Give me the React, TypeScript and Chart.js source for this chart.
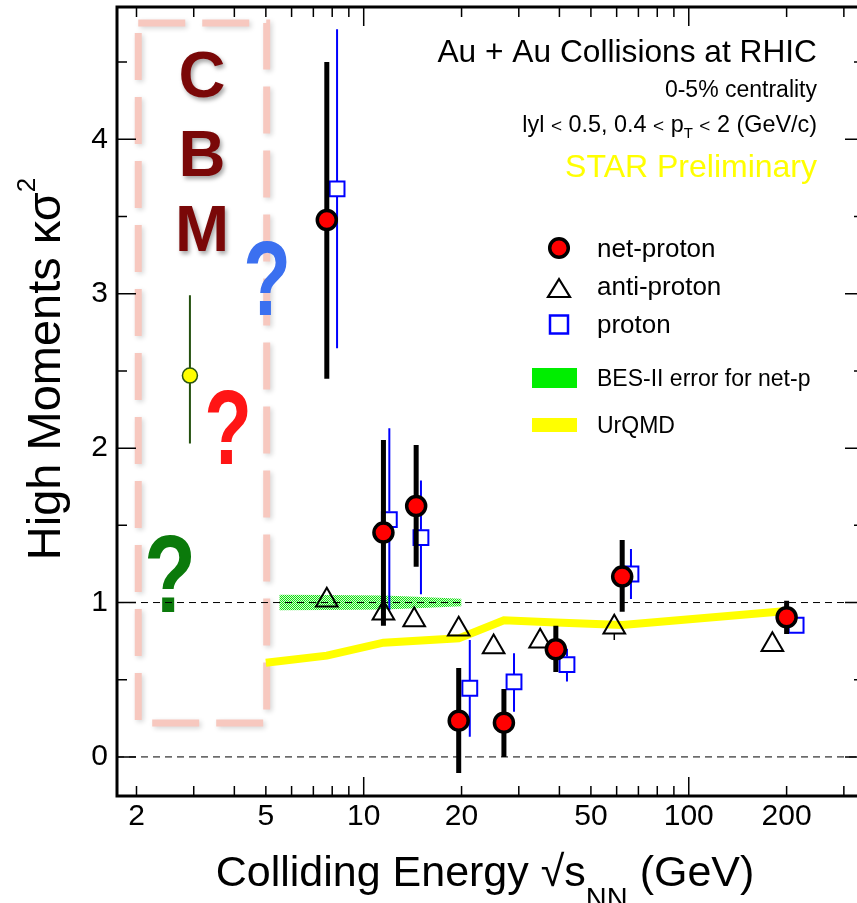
import React, { useEffect, useRef } from 'react';
import { Chart, registerables } from 'chart.js';

Chart.register(...registerables);

const FONT = '"Liberation Sans", Arial, Helvetica, sans-serif';
const CANVAS_W = 870;
const CANVAS_H = 903;

// axis ranges
const X_MIN = 1.742;
const X_MAX = 346;
const Y_MIN = -0.253;
const Y_MAX = 4.857;

// ticks
const xTickLabels = [2, 5, 10, 20, 50, 100, 200];
const xMajorTicks = [10, 100];
const xMinorTicks = [2, 3, 4, 5, 6, 7, 8, 9, 20, 30, 40, 50, 60, 70, 80, 90, 200, 300];
const yTickLabels = [0, 1, 2, 3, 4];
const yMinorTicks = [0.5, 1.5, 2.5, 3.5, 4.5];
const refLines = [0, 1];

// net-proton (STAR)
const netX = [7.7, 11.5, 14.5, 19.6, 27, 39, 62.4, 200];
const netY = [3.478, 1.453, 1.625, 0.235, 0.222, 0.697, 1.168, 0.905];
const netHi = [4.5, 2.053, 2.02, 0.576, 0.44, 0.85, 1.405, 1.012];
const netLo = [2.45, 0.85, 1.232, -0.104, 0.0, 0.55, 0.94, 0.797];

// anti-proton
const antiX = [7.7, 11.5, 14.3, 19.6, 25.1, 34.9, 59, 180.8];
const antiY = [1.014, 0.93, 0.887, 0.827, 0.712, 0.749, 0.84, 0.727];
const antiErr = [0.04, 0.04, 0.04, 0.04, 0.04, 0.04, 0.083, 0.04];

// proton
const protonX = [8.28, 11.99, 15.0, 21.2, 29.0, 42.2, 66.4, 213.9];
const protonY = [3.679, 1.537, 1.42, 0.445, 0.486, 0.598, 1.185, 0.853];
const protonHi = [4.713, 2.128, 1.79, 0.758, 0.672, 0.7, 1.347, 0.88];
const protonLo = [2.647, 0.95, 1.054, 0.131, 0.293, 0.488, 1.023, 0.83];

// UrQMD
const urqmdX = [5, 7.7, 11.5, 19.6, 27, 39, 62.4, 200];
const urqmdY = [0.61, 0.656, 0.74, 0.768, 0.885, 0.87, 0.855, 0.945];

// BES-II error band for net-p (around 1)
const besX = [5.5, 7.7, 11.5, 14.5, 20];
const besHalf = [0.05, 0.048, 0.045, 0.037, 0.024];

// CBM projected point
const cbmX = [2.92];
const cbmY = [2.47];
const cbmHi = [2.99];
const cbmLo = [2.03];

// CBM box (energy range / kappa-sigma range)
const boxX = [2.025, 5.03];
const boxY = [0.22, 4.754];

type Seg = { t: string; size: number; dy?: number; color?: string; bold?: boolean };

function segFont(s: Seg) {
  return `${s.bold ? 'bold ' : ''}${s.size}px ${FONT}`;
}

function drawRich(ctx: CanvasRenderingContext2D, segs: Seg[], x: number, y: number, align: 'left' | 'right' | 'center', color = '#000') {
  const widths = segs.map((s) => {
    ctx.font = segFont(s);
    return ctx.measureText(s.t).width;
  });
  const total = widths.reduce((a, b) => a + b, 0);
  let cx = align === 'left' ? x : align === 'right' ? x - total : x - total / 2;
  ctx.textAlign = 'left';
  ctx.textBaseline = 'alphabetic';
  segs.forEach((s, i) => {
    ctx.font = segFont(s);
    ctx.fillStyle = s.color || color;
    ctx.fillText(s.t, cx, y + (s.dy || 0));
    cx += widths[i];
  });
}

const errorBars = [
  { label: 'net-proton', xs: netX, ys: netY, lo: netLo, hi: netHi, color: '#000', width: 5, gapUp: 0, gapDown: 0 },
  {
    label: 'anti-proton', xs: antiX, ys: antiY,
    lo: antiY.map((v, i) => v - antiErr[i]), hi: antiY.map((v, i) => v + antiErr[i]),
    color: '#000', width: 1.5, gapUp: 12.5, gapDown: 6.3,
  },
  { label: 'proton', xs: protonX, ys: protonY, lo: protonLo, hi: protonHi, color: '#0000ff', width: 2, gapUp: 8, gapDown: 8 },
  { label: 'cbm', xs: cbmX, ys: cbmY, lo: cbmLo, hi: cbmHi, color: '#24500f', width: 2, gapUp: 0, gapDown: 0 },
];

const decorPlugin = {
  id: 'decor',
  beforeDatasetsDraw(chart: any) {
    const { ctx, scales } = chart;
    const x = scales.x;
    const y = scales.y;
    // CBM dashed box
    ctx.save();
    ctx.shadowColor = 'rgba(0,0,0,0.16)';
    ctx.shadowBlur = 5;
    ctx.shadowOffsetX = 2;
    ctx.shadowOffsetY = 2;
    ctx.strokeStyle = '#f7c8bf';
    ctx.lineWidth = 7;
    ctx.setLineDash([47, 17]);
    const l = x.getPixelForValue(boxX[0]);
    const r = x.getPixelForValue(boxX[1]);
    const t = y.getPixelForValue(boxY[1]);
    const b = y.getPixelForValue(boxY[0]);
    ctx.strokeRect(l, t, r - l, b - t);
    ctx.restore();

    // CBM letters
    ctx.save();
    ctx.shadowColor = 'rgba(0,0,0,0.35)';
    ctx.shadowBlur = 4;
    ctx.shadowOffsetX = 2;
    ctx.shadowOffsetY = 3;
    ctx.fillStyle = '#7a0808';
    ctx.font = `bold 65px ${FONT}`;
    ctx.textAlign = 'center';
    ctx.textBaseline = 'alphabetic';
    ctx.fillText('C', 202, 97);
    ctx.fillText('B', 202, 176);
    ctx.fillText('M', 202, 251);
    ctx.restore();

    // question marks
    const qm = (cx: number, base: number, size: number, sy: number, color: string) => {
      ctx.save();
      ctx.translate(cx, base);
      ctx.scale(1, sy);
      ctx.fillStyle = color;
      ctx.font = `bold ${size}px ${FONT}`;
      ctx.textAlign = 'center';
      ctx.textBaseline = 'alphabetic';
      ctx.fillText('?', 0, 0);
      ctx.restore();
    };
    qm(267, 315, 78, 1.36, '#3b70f0');
    qm(228, 464, 78, 1.36, '#ff1515');
    qm(170, 612, 85, 1.29, '#0b7a0b');
  },
  beforeDatasetDraw(chart: any, args: any) {
    const ds = chart.data.datasets[args.index];
    const eb = errorBars.find((e) => e.label === ds.label);
    if (!eb) return;
    const { ctx, chartArea, scales } = chart;
    const x = scales.x;
    const y = scales.y;
    ctx.save();
    ctx.beginPath();
    ctx.rect(chartArea.left, chartArea.top, chartArea.right - chartArea.left, chartArea.bottom - chartArea.top);
    ctx.clip();
    ctx.strokeStyle = eb.color;
    ctx.lineWidth = eb.width;
    ctx.lineCap = 'butt';
    eb.xs.forEach((xv, i) => {
      const px = x.getPixelForValue(xv);
      const pc = y.getPixelForValue(eb.ys[i]);
      const ph = y.getPixelForValue(eb.hi[i]);
      const pl = y.getPixelForValue(eb.lo[i]);
      ctx.beginPath();
      if (pc - eb.gapUp > ph) {
        ctx.moveTo(px, ph);
        ctx.lineTo(px, pc - eb.gapUp);
      }
      if (pl > pc + eb.gapDown) {
        ctx.moveTo(px, pc + eb.gapDown);
        ctx.lineTo(px, pl);
      }
      ctx.stroke();
    });
    ctx.restore();
  },
  afterDraw(chart: any) {
    const { ctx, chartArea, scales } = chart;
    const x = scales.x;
    const y = scales.y;
    const { left, right, top, bottom } = chartArea;

    // ticks
    ctx.save();
    ctx.strokeStyle = '#000';
    ctx.lineWidth = 1.5;
    ctx.beginPath();
    const major = 19;
    const minor = 10;
    xMajorTicks.forEach((v) => {
      const px = x.getPixelForValue(v);
      ctx.moveTo(px, bottom); ctx.lineTo(px, bottom - major);
      ctx.moveTo(px, top); ctx.lineTo(px, top + major);
    });
    xMinorTicks.forEach((v) => {
      const px = x.getPixelForValue(v);
      ctx.moveTo(px, bottom); ctx.lineTo(px, bottom - minor);
      ctx.moveTo(px, top); ctx.lineTo(px, top + minor);
    });
    yTickLabels.forEach((v) => {
      const py = y.getPixelForValue(v);
      ctx.moveTo(left, py); ctx.lineTo(left + major, py);
      ctx.moveTo(right, py); ctx.lineTo(right - major, py);
    });
    yMinorTicks.forEach((v) => {
      const py = y.getPixelForValue(v);
      ctx.moveTo(left, py); ctx.lineTo(left + minor, py);
      ctx.moveTo(right, py); ctx.lineTo(right - minor, py);
    });
    ctx.stroke();
    // frame
    ctx.lineWidth = 3;
    ctx.strokeRect(left, top, right - left, bottom - top);
    ctx.restore();

    ctx.save();
    // annotations
    drawRich(ctx, [{ t: 'Au + Au Collisions at RHIC', size: 31.7 }], 817, 62, 'right');
    drawRich(ctx, [{ t: '0-5% centrality', size: 23 }], 817, 97, 'right');
    drawRich(ctx, [
      { t: 'lyl ', size: 23.4 },
      { t: '<', size: 19 },
      { t: ' 0.5, 0.4 ', size: 23.4 },
      { t: '<', size: 19 },
      { t: ' p', size: 23.4 },
      { t: 'T', size: 15, dy: 6 },
      { t: ' ', size: 23.4 },
      { t: '<', size: 19 },
      { t: ' 2 (GeV/c)', size: 23.4 },
    ], 817, 132, 'right');
    drawRich(ctx, [{ t: 'STAR Preliminary', size: 32, color: '#ffff00' }], 817, 177, 'right');

    // legend
    ctx.beginPath();
    ctx.arc(559, 248, 9.3, 0, Math.PI * 2);
    ctx.fillStyle = '#ff0000';
    ctx.fill();
    ctx.lineWidth = 3.5;
    ctx.strokeStyle = '#000';
    ctx.stroke();
    ctx.beginPath();
    ctx.moveTo(559, 279);
    ctx.lineTo(570, 297);
    ctx.lineTo(548, 297);
    ctx.closePath();
    ctx.lineWidth = 2.2;
    ctx.stroke();
    ctx.strokeStyle = '#0000ff';
    ctx.lineWidth = 2.5;
    ctx.strokeRect(550, 315.5, 18, 18);
    ctx.fillStyle = '#00ee00';
    ctx.fillRect(532, 368, 45, 20);
    ctx.fillStyle = '#ffff00';
    ctx.fillRect(532, 418, 45, 14);

    drawRich(ctx, [{ t: 'net-proton', size: 26 }], 597, 257, 'left');
    drawRich(ctx, [{ t: 'anti-proton', size: 26 }], 597, 295, 'left');
    drawRich(ctx, [{ t: 'proton', size: 26 }], 597, 333, 'left');
    drawRich(ctx, [{ t: 'BES-II error for net-p', size: 23 }], 597, 386, 'left');
    drawRich(ctx, [{ t: 'UrQMD', size: 23 }], 597, 433, 'left');

    // axis titles
    drawRich(ctx, [
      { t: 'Colliding Energy √s', size: 43 },
      { t: 'NN', size: 29, dy: 22 },
      { t: ' (GeV)', size: 43 },
    ], 485, 886, 'center');

    ctx.save();
    ctx.translate(60, 369);
    ctx.rotate(-Math.PI / 2);
    drawRich(ctx, [
      { t: 'High Moments κσ', size: 47 },
      { t: '2', size: 26, dy: -25 },
    ], 0, 0, 'center');
    ctx.restore();
    ctx.restore();
  },
};

export default function App() {
  const ref = useRef<HTMLCanvasElement | null>(null);

  useEffect(() => {
    const canvas = ref.current;
    if (!canvas) return;
    const ctx = canvas.getContext('2d');
    if (!ctx) return;

    const pc = document.createElement('canvas');
    pc.width = 2;
    pc.height = 2;
    const p = pc.getContext('2d')!;
    p.fillStyle = '#d4fad4';
    p.fillRect(0, 0, 2, 2);
    p.fillStyle = '#14e014';
    p.fillRect(0, 0, 1, 1);
    p.fillRect(1, 1, 1, 1);
    const pattern = ctx.createPattern(pc, 'repeat');

    const pts = (xs: number[], ys: number[]) => xs.map((xv, i) => ({ x: xv, y: ys[i] }));

    const datasets: any[] = [
      {
        type: 'line', label: 'bes-low', data: besX.map((xv, i) => ({ x: xv, y: 1 - besHalf[i] })),
        borderWidth: 0, pointRadius: 0, fill: false, order: 12, borderColor: 'rgba(0,0,0,0)',
      },
      {
        type: 'line', label: 'BES-II error for net-p', data: besX.map((xv, i) => ({ x: xv, y: 1 + besHalf[i] })),
        borderWidth: 0, pointRadius: 0, fill: '-1', backgroundColor: pattern, order: 11, borderColor: 'rgba(0,0,0,0)',
      },
      ...refLines.map((v) => ({
        type: 'line', label: 'ref' + v, data: [{ x: X_MIN, y: v }, { x: X_MAX, y: v }],
        borderColor: '#000', borderWidth: 1, borderDash: [7, 5], pointRadius: 0, fill: false, order: 10,
      })),
      {
        type: 'line', label: 'UrQMD', data: pts(urqmdX, urqmdY),
        borderColor: '#ffff00', borderWidth: 8, pointRadius: 0, fill: false, order: 9, tension: 0,
      },
      {
        type: 'scatter', label: 'proton', data: pts(protonX, protonY),
        pointStyle: 'rect', pointRadius: 10.5, borderWidth: 2, borderColor: '#0000ff', backgroundColor: 'rgba(0,0,0,0)', order: 5,
      },
      {
        type: 'scatter', label: 'anti-proton', data: pts(antiX, antiY),
        pointStyle: 'triangle', pointRadius: 12.5, borderWidth: 2, borderColor: '#000', backgroundColor: 'rgba(0,0,0,0)', order: 4,
      },
      {
        type: 'scatter', label: 'cbm', data: pts(cbmX, cbmY),
        pointStyle: 'circle', pointRadius: 7.5, borderWidth: 1.5, borderColor: '#2a5512', backgroundColor: '#ffff00', order: 3,
      },
      {
        type: 'scatter', label: 'net-proton', data: pts(netX, netY),
        pointStyle: 'circle', pointRadius: 9.5, borderWidth: 3.5, borderColor: '#000', backgroundColor: '#ff0000', order: 1,
      },
    ];

    const zeroPad = (s: any) => {
      s.paddingTop = 0;
      s.paddingBottom = 0;
      s.paddingLeft = 0;
      s.paddingRight = 0;
    };

    const chart = new Chart(ctx, {
      type: 'scatter',
      data: { datasets },
      options: {
        animation: false,
        responsive: false,
        maintainAspectRatio: false,
        events: [],
        layout: { autoPadding: false, padding: { top: 7, right: CANVAS_W - 864, left: 0, bottom: 0 } },
        plugins: { legend: { display: false }, tooltip: { enabled: false } },
        scales: {
          x: {
            type: 'logarithmic',
            min: X_MIN,
            max: X_MAX,
            grid: { display: false, drawTicks: false },
            border: { display: false },
            ticks: {
              font: { size: 30, family: FONT },
              color: '#000',
              padding: 3,
              autoSkip: false,
              maxRotation: 0,
              minRotation: 0,
              callback: (v: any) => String(v),
            },
            afterBuildTicks: (s: any) => {
              s.ticks = xTickLabels.map((v) => ({ value: v }));
            },
            afterFit: (s: any) => {
              s.height = CANVAS_H - 796;
              zeroPad(s);
            },
          },
          y: {
            type: 'linear',
            min: Y_MIN,
            max: Y_MAX,
            grid: { display: false, drawTicks: false },
            border: { display: false },
            ticks: {
              font: { size: 30, family: FONT },
              color: '#000',
              padding: 9,
              callback: (v: any) => String(v),
            },
            afterBuildTicks: (s: any) => {
              s.ticks = yTickLabels.map((v) => ({ value: v }));
            },
            afterFit: (s: any) => {
              s.width = 117;
              zeroPad(s);
            },
          },
        },
      } as any,
      plugins: [decorPlugin as any],
    });

    return () => chart.destroy();
  }, []);

  return (
    <div style={{ position: 'fixed', left: 0, top: 0, width: 857, height: CANVAS_H, overflow: 'hidden', background: '#fff' }}>
      <canvas ref={ref} width={CANVAS_W} height={CANVAS_H} style={{ display: 'block', width: CANVAS_W, height: CANVAS_H }} />
    </div>
  );
}
